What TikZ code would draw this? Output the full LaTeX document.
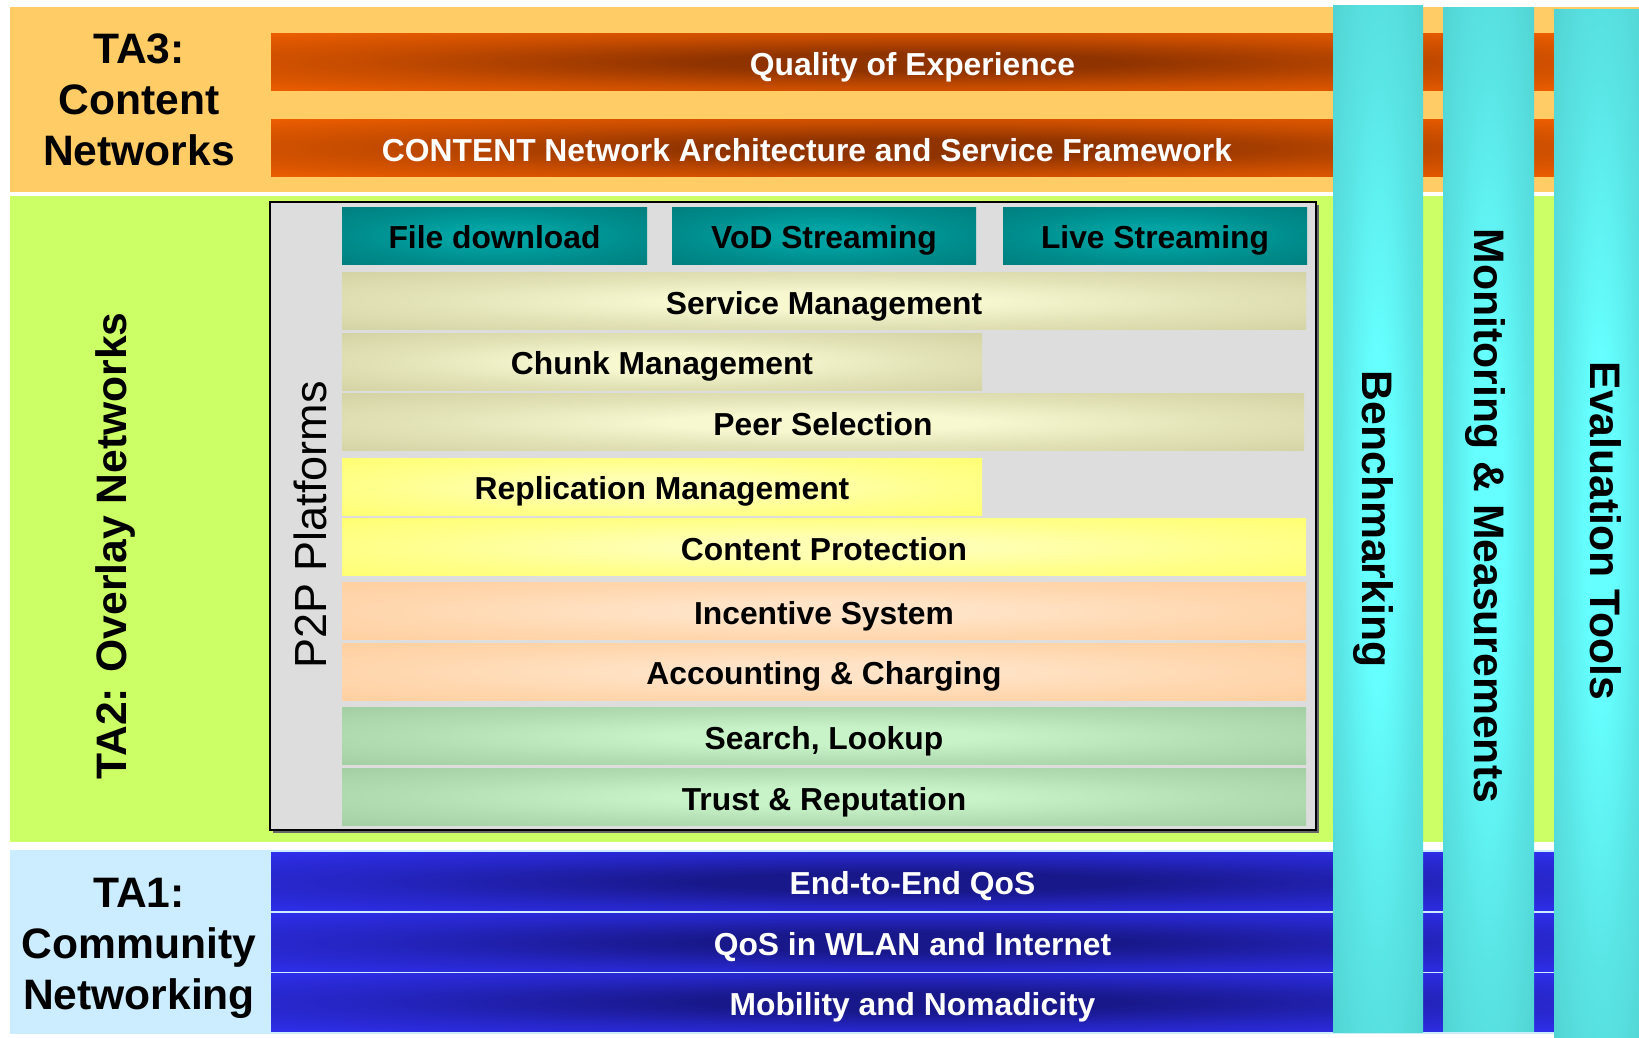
\documentclass[tikz,border=0pt]{standalone}
\usepackage{fontspec}
\setmainfont{Liberation Sans}

% band and bar colours
\definecolor{ta3bg}{HTML}{FFCC66}
\definecolor{ta2bg}{HTML}{CCFF66}
\definecolor{ta1bg}{HTML}{CCECFF}
\definecolor{boxgray}{HTML}{DDDDDD}
\definecolor{orgin}{HTML}{8F3300}
\definecolor{orgout}{HTML}{FF6600}
\definecolor{bluein}{HTML}{18188A}
\definecolor{blueout}{HTML}{3333FF}
\definecolor{tealin}{HTML}{00A3A3}
\definecolor{tealout}{HTML}{007878}
\definecolor{tanin}{HTML}{F7F7D0}
\definecolor{tanout}{HTML}{CCCC9C}
\definecolor{yelin}{HTML}{FFFFB4}
\definecolor{yelout}{HTML}{FFFF66}
\definecolor{peachin}{HTML}{FFE3C6}
\definecolor{peachout}{HTML}{FFCC99}
\definecolor{grnin}{HTML}{C8F2C8}
\definecolor{grnout}{HTML}{9DC89D}
\definecolor{pilin}{HTML}{66FFFF}
\definecolor{pilout}{HTML}{4ECACA}
\colorlet{glowin}{white}
\colorlet{glowmid}{gray}
\colorlet{glowout}{black}

% elliptic glow: light/dark centre fading to the edge colour
\pgfdeclareradialshading[glowin,glowmid,glowout]{glow}{\pgfpoint{0bp}{0bp}}{color(0bp)=(glowin); color(8bp)=(glowin); color(22bp)=(glowmid); color(42bp)=(glowout); color(100bp)=(glowout)}

\tikzset{
  glowbar/.style 2 args={/utils/exec={\colorlet{glowin}{#1}\colorlet{glowout}{#2}\colorlet{glowmid}{#1!50!#2}}, shade, shading=glow},
  bar/.style={inner sep=0pt, outer sep=0pt, minimum height=57pt, text height=28pt, text depth=2pt, font=\fontsize{31.8}{36}\selectfont\bfseries},
  bartext/.style={inner sep=0pt, text height=28pt, text depth=2pt, font=\fontsize{31.8}{36}\selectfont\bfseries},
  talabel/.style={inner sep=0pt, align=center, font=\fontsize{42.6}{51}\selectfont\bfseries},
  pillar/.style={inner sep=0pt, outer sep=0pt, glowbar={pilin}{pilout}},
  piltext/.style={inner sep=0pt, rotate=-90, font=\fontsize{42.7}{50}\selectfont\bfseries},
}

\begin{document}
\begin{tikzpicture}[x=1pt,y=-1pt]
\useasboundingbox (0,0) rectangle (1639,1037);
\clip (0,0) rectangle (1639,1037);
\fill[white] (0,0) rectangle (1639,1037);

% the three technical-area bands
\fill[ta3bg] (10,7) rectangle (1639,192);
\fill[ta2bg] (10,196) rectangle (1639,842);
\fill[ta1bg] (10,850) rectangle (1639,1034);

% TA3: content networks
\node[talabel] (ta3) at (139,100) {TA3:\\Content\\Networks};
\node[bar, glowbar={orgin}{orgout}, minimum width=1283pt, text=white] (qoe) at (912.5,62) {Quality of Experience};
\node[bar, glowbar={orgin}{orgout}, minimum width=1283pt] (cnasf) at (912.5,148) {};
\node[bartext, text=white] (cnasftext) at (807,148) {CONTENT Network Architecture and Service Framework};

% TA2: overlay networks
\node[talabel, rotate=90] (ta2) at (115,546) {TA2: Overlay Networks};
\fill[black!60] (272.5,204.5) rectangle (1318.5,832.5);
\node[draw=black, fill=boxgray, line width=2.5pt, inner sep=0pt, minimum width=1046pt, minimum height=628pt] (p2p) at (793,516) {};
\node[inner sep=0pt, rotate=90, font=\fontsize{45}{50}\selectfont] (p2plabel) at (310.5,525) {P2P Platforms};

\node[bar, glowbar={tealin}{tealout}, minimum width=305pt] (file) at (494.5,235.5) {File download};
\node[bar, glowbar={tealin}{tealout}, minimum width=304pt] (vod) at (824,235.5) {VoD Streaming};
\node[bar, glowbar={tealin}{tealout}, minimum width=304pt] (live) at (1155,235.5) {Live Streaming};

\node[bar, glowbar={tanin}{tanout}, minimum width=964pt] (svc) at (824,301) {Service Management};
\node[bar, glowbar={tanin}{tanout}, minimum width=640pt] (chunk) at (662,361.7) {Chunk Management};
\node[bar, glowbar={tanin}{tanout}, minimum width=962pt] (peer) at (823,422.3) {Peer Selection};
\node[bar, glowbar={yelin}{yelout}, minimum width=640pt] (repl) at (662,486.7) {Replication Management};
\node[bar, glowbar={yelin}{yelout}, minimum width=964pt] (prot) at (824,547) {Content Protection};
\node[bar, glowbar={peachin}{peachout}, minimum width=964pt] (incent) at (824,611) {Incentive System};
\node[bar, glowbar={peachin}{peachout}, minimum width=964pt] (acct) at (824,671.7) {Accounting \& Charging};
\node[bar, glowbar={grnin}{grnout}, minimum width=964pt] (search) at (824,736.3) {Search, Lookup};
\node[bar, glowbar={grnin}{grnout}, minimum width=964pt] (trust) at (824,797) {Trust \& Reputation};

% TA1: community networking
\node[talabel] (ta1) at (139,948) {TA1:\\Community\\Networking};
\node[bar, glowbar={bluein}{blueout}, minimum width=1283pt, minimum height=58pt, text=white] (e2e) at (912.5,881.7) {End-to-End QoS};
\node[bar, glowbar={bluein}{blueout}, minimum width=1283pt, minimum height=58pt, text=white] (wlan) at (912.5,942.2) {QoS in WLAN and Internet};
\node[bar, glowbar={bluein}{blueout}, minimum width=1283pt, minimum height=58pt, text=white] (mob) at (912.5,1002) {Mobility and Nomadicity};

% cross-cutting pillars
\node[pillar, minimum width=90pt, minimum height=1027pt] (bench) at (1378,518.5) {};
\node[pillar, minimum width=91pt, minimum height=1024pt] (monit) at (1488.5,519) {};
\node[pillar, minimum width=92pt, minimum height=1031pt] (evalp) at (1600,524.5) {};
\node[piltext] (benchtext) at (1373,519) {Benchmarking};
\node[piltext] (monittext) at (1485,516) {Monitoring \& Measurements};
\node[piltext] (evaltext) at (1606,531) {Evaluation Tools};
\end{tikzpicture}
\end{document}
